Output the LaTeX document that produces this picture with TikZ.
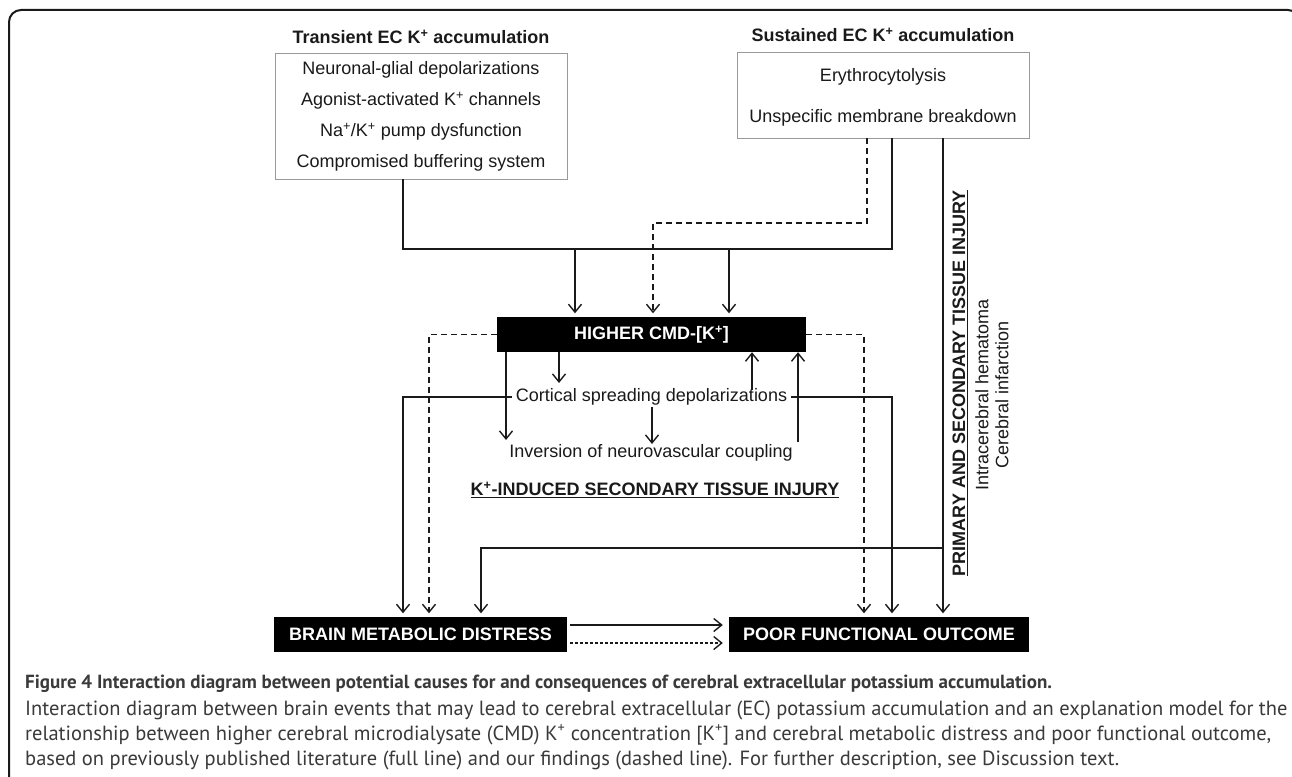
\documentclass[tikz,border=0pt]{standalone}
\usepackage{fontspec}
\setmainfont{Liberation Sans}
\newfontfamily\capfont{PT Sans}
\usetikzlibrary{arrows.meta}
\definecolor{ink}{HTML}{1A1A1A}
\definecolor{captxt}{HTML}{3A3A3A}
\definecolor{boxline}{HTML}{9A9A9A}
\begin{document}
\begin{tikzpicture}[x=1pt,y=-1pt,
  txt/.style={font=\fontsize{18}{21}\selectfont, text=ink, inner sep=0pt},
  btxt/.style={font=\bfseries\fontsize{18}{21}\selectfont, text=ink, inner sep=0pt},
  graybox/.style={draw=boxline, line width=0.9pt, inner sep=0pt},
  blackbox/.style={fill=black, text=white, font=\bfseries\fontsize{18}{21}\selectfont, inner sep=0pt},
  conn/.style={draw=ink, line width=1.4pt},
  arr/.style={conn, -{Straight Barb[length=8pt,width=13pt,line width=1.4pt]}},
  toBox/.style={shorten >=3.5pt},
  dsharr/.style={arr, dash pattern=on 6pt off 4pt},
  fdsharr/.style={arr, dash pattern=on 3pt off 2pt},
  captext/.style={font=\capfont\fontsize{20.5}{23}\selectfont, text=captxt, inner sep=0pt, anchor=west},
  captbold/.style={font=\capfont\bfseries\fontsize{19}{23}\selectfont, text=captxt, inner sep=0pt, anchor=west},
  outerframe/.style={draw=ink, line width=2pt, rounded corners=12pt}
]
\useasboundingbox (0,0) rectangle (1292,776);
\path[fill=white] (0,0) rectangle (1292,776);
\draw[outerframe] (9,790) -- (9,10) -- (1300,10) -- (1300,60);

% top boxes
\node[btxt] (tTitle) at (421,37) {Transient EC K\textsuperscript{+} accumulation};
\node[graybox, minimum width=292pt, minimum height=126pt] (tBox) at (421,116) {};
\node[txt] (tl1) at (421,70) {Neuronal-glial depolarizations};
\node[txt] (tl2) at (421,101) {Agonist-activated K\textsuperscript{+} channels};
\node[txt] (tl3) at (421,132) {Na\textsuperscript{+}/K\textsuperscript{+} pump dysfunction};
\node[txt] (tl4) at (421,163) {Compromised buffering system};

\node[btxt] (sTitle) at (883,35) {Sustained EC K\textsuperscript{+} accumulation};
\node[graybox, minimum width=292pt, minimum height=86pt] (sBox) at (883,95) {};
\node[txt] (sl1) at (883,77) {Erythrocytolysis};
\node[txt] (sl2) at (883,118) {Unspecific membrane breakdown};

% central
\node[blackbox, minimum width=309pt, minimum height=35pt] (higher) at (651.5,334.5) {HIGHER CMD-[K\textsuperscript{+}]};
\node[txt, inner xsep=4pt] (csd) at (651.5,397) {Cortical spreading depolarizations};
\node[txt] (inv) at (651,453) {Inversion of neurovascular coupling};
\node[btxt] (kind) at (655,490) {\underline{K\textsuperscript{+}-INDUCED SECONDARY TISSUE INJURY}};

% bottom boxes
\node[blackbox, minimum width=293pt, minimum height=35pt] (brain) at (420.5,634.5) {BRAIN METABOLIC DISTRESS};
\node[blackbox, minimum width=300pt, minimum height=35pt] (poor) at (879,634.5) {POOR FUNCTIONAL OUTCOME};

% rotated labels
\node[btxt, rotate=90] (prim) at (960,383) {\underline{PRIMARY AND SECONDARY TISSUE INJURY}};
\node[txt, rotate=90] (ich) at (982,395) {Intracerebral hematoma};
\node[txt, rotate=90] (ci) at (1002,395) {Cerebral infarction};

% coordinates
\coordinate (jL) at (403,249);
\coordinate (jR) at (892,249);
\coordinate (a1) at (575,249);
\coordinate (a2) at (729,249);
\coordinate (d1) at (867,223);
\coordinate (d2) at (653,223);
\coordinate (dL) at (429,334.5);
\coordinate (dR) at (864,334.5);
\coordinate (b1) at (506,440);
\coordinate (b2) at (559,383);
\coordinate (b3) at (652,444);
\coordinate (b3s) at (652,407);
\coordinate (u1) at (752,390);
\coordinate (u2) at (798,442);
\coordinate (cL) at (403,397);
\coordinate (cR) at (892,397);
\coordinate (sR) at (943,548);
\coordinate (hL) at (481,548);
\coordinate (h1) at (0,625);
\coordinate (h2) at (0,643);

% connectors
\draw[conn] (jL |- tBox.south) -- (jL) -- (jR) -- (jR |- sBox.south);
\draw[arr, toBox] (a1) -- (a1 |- higher.north);
\draw[arr, toBox] (a2) -- (a2 |- higher.north);
\draw[dsharr, toBox] (d1 |- sBox.south) -- (d1) -- (d2) -- (d2 |- higher.north);
\draw[dsharr, toBox] (higher.west) -- (dL) -- (dL |- brain.north);
\draw[dsharr, toBox] (higher.east) -- (dR) -- (dR |- poor.north);
\draw[arr] (b1 |- higher.south) -- (b1);
\draw[arr] (b2 |- higher.south) -- (b2);
\draw[arr] (b3s) -- (b3);
\draw[arr] (u1) -- (u1 |- higher.south);
\draw[arr] (u2) -- (u2 |- higher.south);
\draw[arr, toBox] (csd.west) -- (cL) -- (cL |- brain.north);
\draw[arr, toBox] (csd.east) -- (cR) -- (cR |- poor.north);
\draw[arr, toBox] (sR |- sBox.south) -- (sR |- poor.north);
\draw[arr, toBox] (sR) -- (hL) -- (hL |- brain.north);
\draw[arr, shorten <=3pt, shorten >=6pt] (brain.east |- h1) -- (poor.west |- h1);
\draw[fdsharr, shorten <=3pt, shorten >=6pt] (brain.east |- h2) -- (poor.west |- h2);

% caption
\node[captbold] (c0) at (25,684) {Figure 4 Interaction diagram between potential causes for and consequences of cerebral extracellular potassium accumulation.};
\node[captext] (c1) at (25,710) {Interaction diagram between brain events that may lead to cerebral extracellular (EC) potassium accumulation and an explanation model for the};
\node[captext] (c2) at (25,735) {relationship between higher cerebral microdialysate (CMD) K\textsuperscript{+} concentration [K\textsuperscript{+}] and cerebral metabolic distress and poor functional outcome,};
\node[captext] (c3) at (25,760) {based on previously published literature (full line) and our findings (dashed line). For further description, see Discussion text.};
\end{tikzpicture}
\end{document}
